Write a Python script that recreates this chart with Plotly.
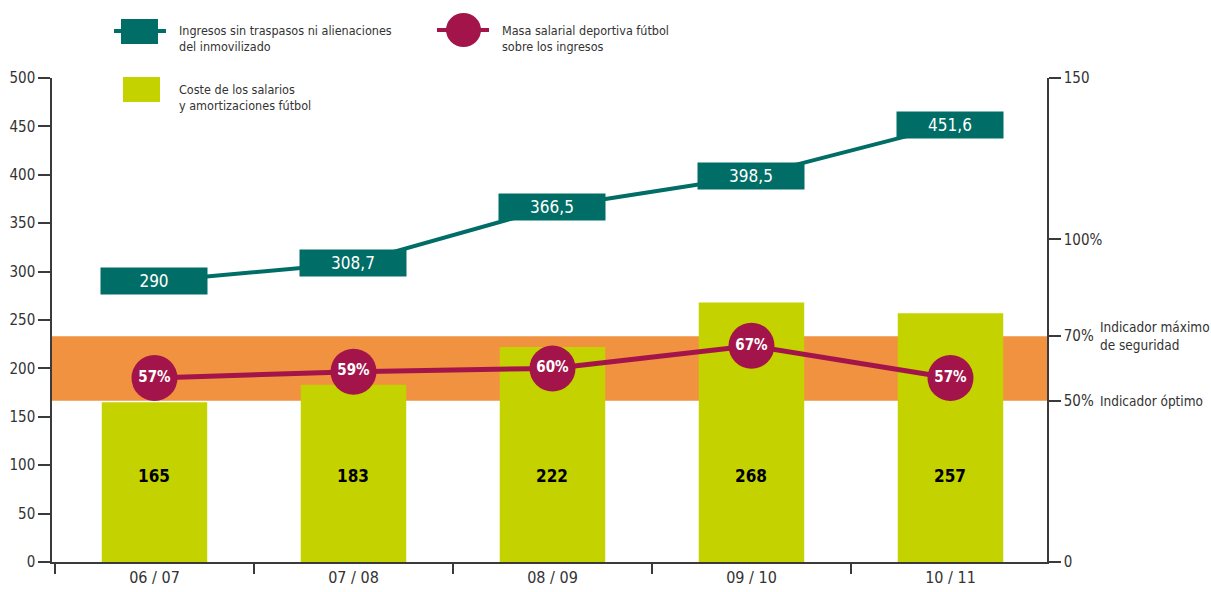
import plotly.graph_objects as go

# Season data
seasons = ["06 / 07", "07 / 08", "08 / 09", "09 / 10", "10 / 11"]
ingresos = [290, 308.7, 366.5, 398.5, 451.6]          # revenue excl. transfers
coste_salarios = [165, 183, 222, 268, 257]             # wages + amortisation
masa_salarial_pct = [57, 59, 60, 67, 57]               # wage bill over revenue (%)

# Right-axis reference ticks
right_tickvals = [0, 50, 70, 100, 150]
right_ticktext = ["0", "50%", "70%", "100%", "150"]
indicador_optimo = 50
indicador_maximo = 70

TEAL = "#006e66"
CRIMSON = "#a3154a"
LIME = "#c4d200"
ORANGE = "#f19240"
AXIS = "#3a3a3a"
TXT = "#333333"
FONT = "DejaVu Sans Condensed, DejaVu Sans, sans-serif"

W, H = 1211, 592
L, R, T, B = 52, 164, 78, 30
PW, PH = W - L - R, H - T - B


def px(x):
    return (x - L) / PW


def py(y):
    return (H - B - y) / PH


def fmt(v):
    s = f"{v:g}"
    return s.replace(".", ",")


fig = go.Figure()

fig.add_trace(go.Bar(
    x=seasons, y=coste_salarios, marker=dict(color=LIME, line=dict(width=0)),
    width=0.53, yaxis="y", showlegend=False, hoverinfo="skip"))

fig.add_trace(go.Scatter(
    x=seasons, y=ingresos, mode="lines", line=dict(color=TEAL, width=4),
    yaxis="y", showlegend=False, hoverinfo="skip"))

fig.add_trace(go.Scatter(
    x=seasons, y=masa_salarial_pct, mode="lines+markers+text",
    line=dict(color=CRIMSON, width=5),
    marker=dict(size=46, color=CRIMSON, line=dict(width=0)),
    text=[f"{v}%" for v in masa_salarial_pct], textposition="middle center",
    textfont=dict(family=FONT, size=15, color="white", weight="bold"),
    yaxis="y2", showlegend=False, hoverinfo="skip"))

annotations = []
# revenue value boxes
for s, v in zip(seasons, ingresos):
    annotations.append(dict(
        x=s, y=v, xref="x", yref="y", text=fmt(v), showarrow=False,
        width=106, height=26, bgcolor=TEAL, borderpad=0,
        font=dict(family=FONT, size=17, color="white")))
# bar value labels
label_level = 89
for s, v in zip(seasons, coste_salarios):
    annotations.append(dict(
        x=s, y=label_level, xref="x", yref="y", text=f"<b>{v}</b>",
        showarrow=False, font=dict(family=FONT, size=17, color="black")))

# indicator captions
annotations.append(dict(
    x=px(1098), y=indicador_maximo, xref="paper", yref="y2", xanchor="left",
    yanchor="middle", align="left", showarrow=False,
    text="Indicador máximo<br>de seguridad",
    font=dict(family=FONT, size=13.5, color=TXT)))
annotations.append(dict(
    x=px(1098), y=indicador_optimo, xref="paper", yref="y2", xanchor="left",
    yanchor="middle", align="left", showarrow=False,
    text="Indicador óptimo", font=dict(family=FONT, size=13.5, color=TXT)))

# legend captions
legend_txt = [
    (177, 39, "Ingresos sin traspasos ni alienaciones<br>del inmovilizado"),
    (500, 39, "Masa salarial deportiva fútbol<br>sobre los ingresos"),
    (177, 97, "Coste de los salarios<br>y amortizaciones fútbol"),
]
for x0, y0, t in legend_txt:
    annotations.append(dict(
        x=px(x0), y=py(y0), xref="paper", yref="paper", xanchor="left",
        yanchor="middle", align="left", showarrow=False, text=t,
        font=dict(family=FONT, size=12.5, color=TXT)))

shapes = [
    # safety band between the two indicators
    dict(type="rect", xref="paper", yref="y2", x0=0, x1=1,
         y0=indicador_optimo, y1=indicador_maximo, fillcolor=ORANGE,
         line=dict(width=0), layer="below"),
    # legend swatches
    dict(type="line", xref="paper", yref="paper", x0=px(114), x1=px(166),
         y0=py(31), y1=py(31), line=dict(color=TEAL, width=4)),
    dict(type="rect", xref="paper", yref="paper", x0=px(121), x1=px(158),
         y0=py(44), y1=py(19), fillcolor=TEAL, line=dict(width=0)),
    dict(type="line", xref="paper", yref="paper", x0=px(437), x1=px(489),
         y0=py(30), y1=py(30), line=dict(color=CRIMSON, width=4)),
    dict(type="circle", xref="paper", yref="paper", x0=px(446), x1=px(481),
         y0=py(47), y1=py(13), fillcolor=CRIMSON, line=dict(width=0)),
    dict(type="rect", xref="paper", yref="paper", x0=px(123), x1=px(160),
         y0=py(102), y1=py(77), fillcolor=LIME, line=dict(width=0)),
]

axis_common = dict(showline=True, linecolor=AXIS, linewidth=1.5, ticks="outside",
                   tickcolor=AXIS, tickwidth=1.5, showgrid=False, zeroline=False,
                   automargin=False)

fig.update_layout(
    width=W, height=H,
    margin=dict(l=L, r=R, t=T, b=B, pad=0),
    paper_bgcolor="white", plot_bgcolor="white",
    showlegend=False, bargap=0.47,
    font=dict(family=FONT, color=TXT),
    xaxis=dict(type="category", categoryorder="array", categoryarray=seasons,
               range=[-0.515, 4.485], tickson="boundaries", ticklen=10,
               tickfont=dict(family=FONT, size=16, color=TXT), **axis_common),
    yaxis=dict(range=[0, 500], dtick=50, ticklen=12,
               tickfont=dict(family=FONT, size=15, color=TXT), **axis_common),
    yaxis2=dict(range=[0, 150], overlaying="y", side="right", tickmode="array",
                tickvals=right_tickvals, ticktext=right_ticktext, ticklen=12,
                tickfont=dict(family=FONT, size=15, color=TXT), **axis_common),
    annotations=annotations, shapes=shapes,
)

fig.write_html("out.html")
